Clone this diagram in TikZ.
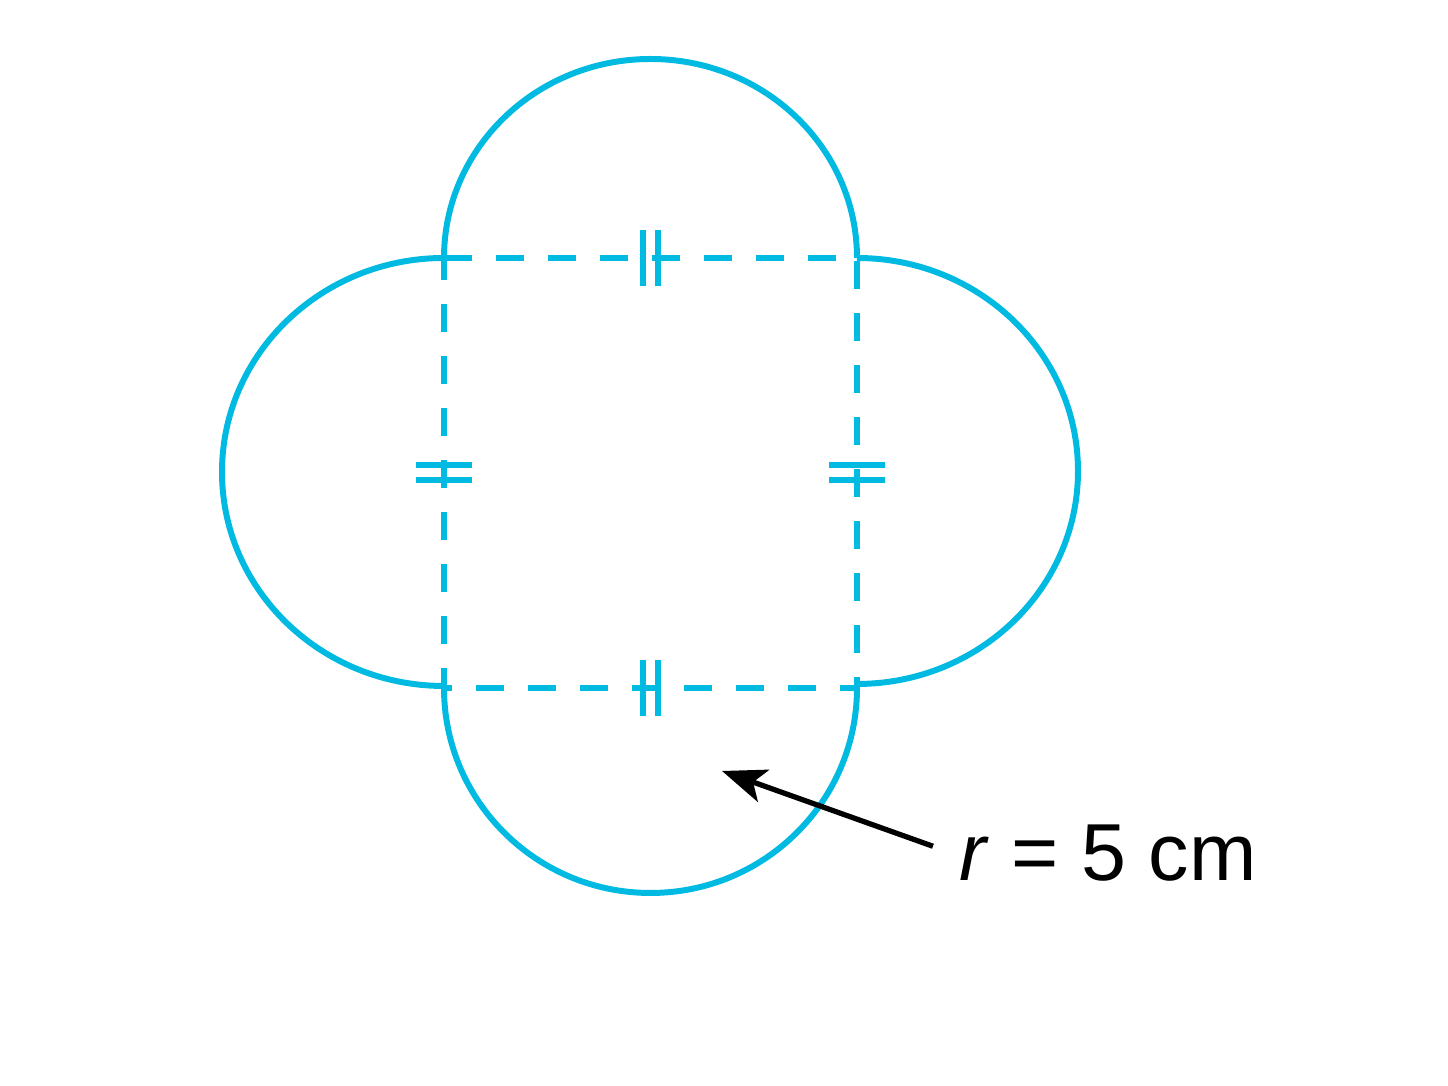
\documentclass[tikz,border=0pt]{standalone}
\usepackage{fontspec}
\setmainfont{Liberation Sans}
\usepackage{tikz}
\usetikzlibrary{%
  arrows.meta,%
  calc,%
  positioning
}
\definecolor{figblue}{RGB}{0,186,226}
\tikzset{
  outline/.style={figblue,line width=1.7pt},
  sideline/.style={figblue,line width=1.7pt,dash pattern=on 0.28cm off 0.24cm},
  tickmark/.style={figblue,line width=1.7pt},
  pointer/.style={-{Stealth[length=0.44cm,width=0.34cm,inset=0.11cm]},line width=1.5pt}
}

\begin{document}
\begin{tikzpicture}
      \useasboundingbox (0,0) rectangle (14.48,10.86);
      % corners of the square
      \coordinate (tl) at (4.44,8.28);
      \coordinate (tr) at (8.57,8.28);
      \coordinate (br) at (8.57,3.98);
      \coordinate (bl) at (4.44,3.98);
      \draw [sideline] (tl) -- (tr) -- (br) -- (bl) -- cycle;
      % four half circles
      \draw [outline] (tl) arc [start angle=180,end angle=0,x radius=2.065cm,y radius=1.99cm];
      \draw [outline] (tl) arc [start angle=90,end angle=270,x radius=2.22cm,y radius=2.14cm];
      \draw [outline] (tr) arc [start angle=90,end angle=-90,x radius=2.21cm,y radius=2.13cm];
      \draw [outline] (bl) arc [start angle=180,end angle=360,x radius=2.065cm,y radius=2.05cm];
      % equal-side marks
      \foreach \dx in {-0.075,0.075} {
        \draw [tickmark] ([xshift=\dx cm,yshift=-0.28cm]$(tl)!0.5!(tr)$) -- ++(0,0.56);
        \draw [tickmark] ([xshift=\dx cm,yshift=-0.28cm]$(bl)!0.5!(br)$) -- ++(0,0.56);
        \draw [tickmark] ([yshift=\dx cm,xshift=-0.28cm]$(tl)!0.5!(bl)$) -- ++(0.56,0);
        \draw [tickmark] ([yshift=\dx cm,xshift=-0.28cm]$(tr)!0.5!(br)$) -- ++(0.56,0);
      }
      % radius label
      \node (rlabel) [inner sep=2pt] at (11.08,2.33) {\fontsize{23}{27}\selectfont\textit{r} = 5 cm};
      \coordinate (rtip) at (7.22,3.15);
      \draw [pointer,shorten <=0.2cm] (rlabel.west) -- (rtip);
    \end{tikzpicture}
\end{document}
